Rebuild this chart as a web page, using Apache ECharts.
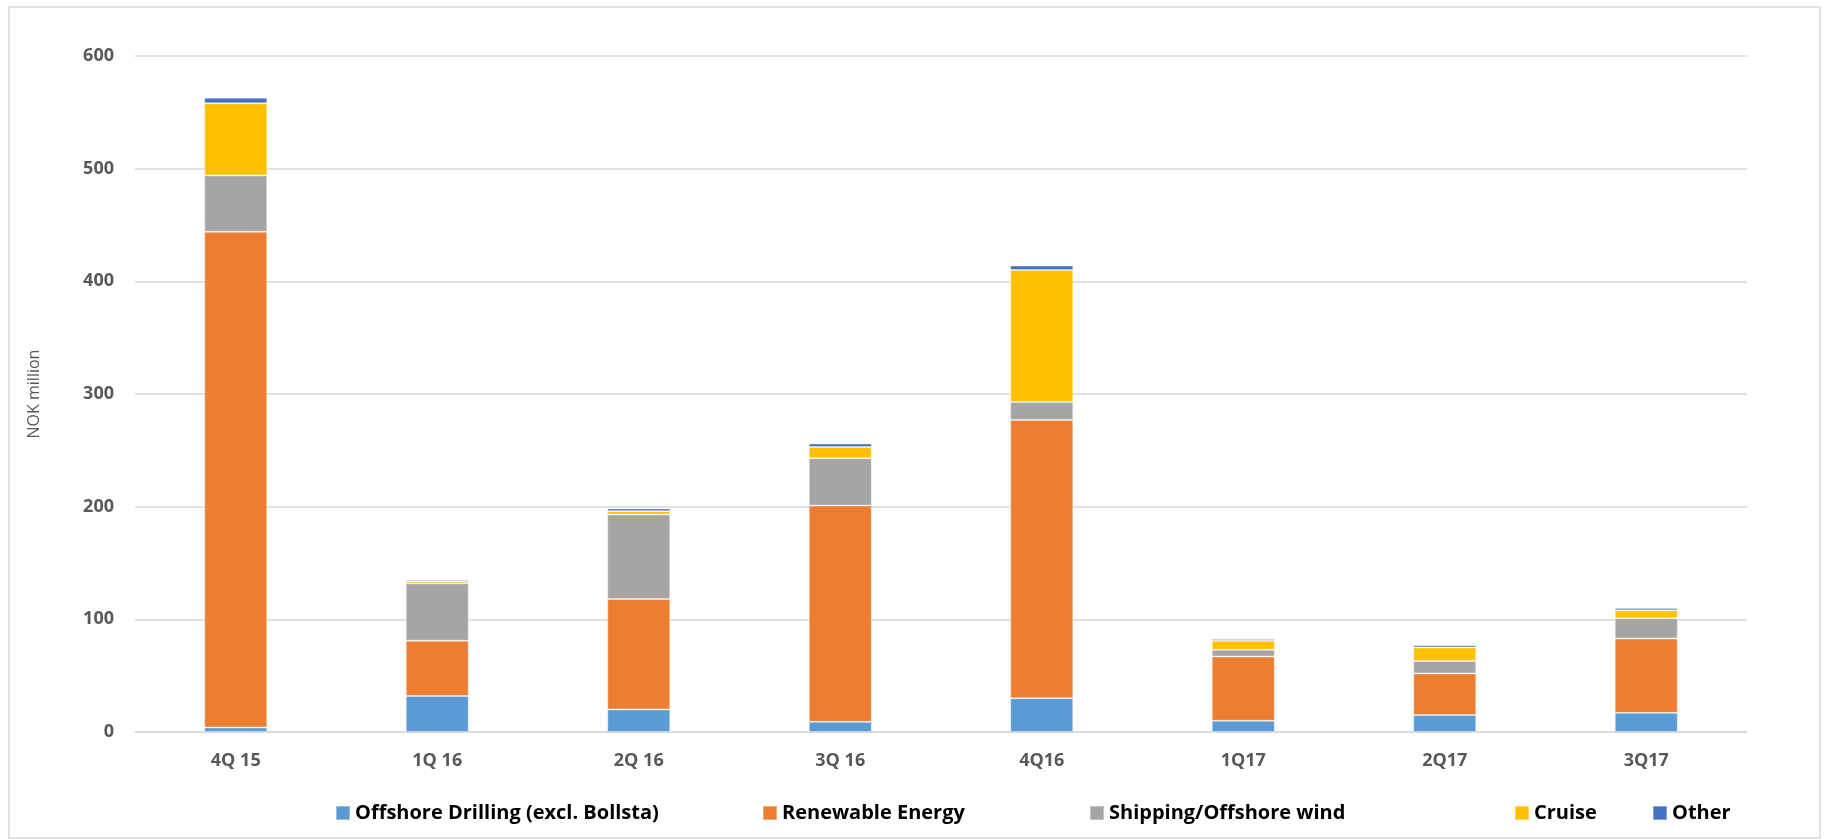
<!DOCTYPE html>
<html>
<head>
<meta charset="utf-8">
<script src="https://cdn.jsdelivr.net/npm/echarts@6/dist/echarts.min.js"></script>
<style>
html,body{margin:0;padding:0;background:#fff;}
#chart{width:1825px;height:840px;}
</style>
</head>
<body>
<div id="chart"></div>
<script>
var categories = ['4Q 15', '1Q 16', '2Q 16', '3Q 16', '4Q16', '1Q17', '2Q17', '3Q17'];
var offshoreDrilling = [4, 32, 20, 9, 30, 10, 15, 17];
var renewableEnergy = [440, 49, 98, 192, 247, 57, 37, 66];
var shippingOffshoreWind = [50, 51, 75, 42, 16, 6, 11, 18];
var cruise = [64, 2, 3, 10, 117, 8, 12, 7];
var other = [5, 1.3, 2.4, 3, 4, 1.5, 2, 2];
var seriesNames = ['Offshore Drilling (excl. Bollsta)', 'Renewable Energy', 'Shipping/Offshore wind', 'Cruise', 'Other'];
var seriesColors = ['#5B9BD5', '#ED7D31', '#A5A5A5', '#FFC000', '#4472C4'];
var seriesData = [offshoreDrilling, renewableEnergy, shippingOffshoreWind, cruise, other];
var legendLefts = [330, 757, 1084, 1509, 1647];

var FONT = '"Open Sans", Lato, sans-serif';
var chart = echarts.init(document.getElementById('chart'));

var series = seriesNames.map(function (n, i) {
  return {
    name: n,
    type: 'bar',
    stack: 'total',
    barWidth: 63,
    data: seriesData[i],
    itemStyle: { color: seriesColors[i], borderColor: 'rgba(255,255,255,0.35)', borderWidth: 1 },
    emphasis: { disabled: true }
  };
});

var legends = seriesNames.map(function (n, i) {
  return {
    data: [n],
    left: legendLefts[i],
    top: 798,
    itemWidth: 14,
    itemHeight: 14,
    itemGap: 4,
    icon: 'rect',
    textStyle: { fontFamily: FONT, fontWeight: 'bold', fontSize: 20, color: '#000' }
  };
});

chart.setOption({
  animation: false,
  backgroundColor: '#fff',
  graphic: [{
    type: 'rect',
    shape: { x: 9, y: 7, width: 1811, height: 831 },
    style: { fill: 'none', stroke: '#D9D9D9', lineWidth: 1.5 },
    silent: true
  }],
  legend: legends,
  grid: { left: 135, right: 78, top: 56, bottom: 108, containLabel: false },
  xAxis: {
    type: 'category',
    data: categories,
    axisLine: { show: true, lineStyle: { color: '#D9D9D9', width: 1.5 } },
    axisTick: { show: false },
    axisLabel: { fontFamily: FONT, fontWeight: 'bold', fontSize: 18, color: '#595959', margin: 20 }
  },
  yAxis: {
    type: 'value',
    min: 0, max: 600, interval: 100,
    name: 'NOK million',
    nameLocation: 'middle',
    nameGap: 93,
    nameTextStyle: { fontFamily: FONT, fontSize: 16, color: '#595959' },
    axisLine: { show: false },
    axisTick: { show: false },
    splitLine: { lineStyle: { color: '#D9D9D9', width: 1.5 } },
    axisLabel: { fontFamily: FONT, fontWeight: 'bold', fontSize: 18, color: '#595959', margin: 21 }
  },
  series: series
});
</script>
</body>
</html>
